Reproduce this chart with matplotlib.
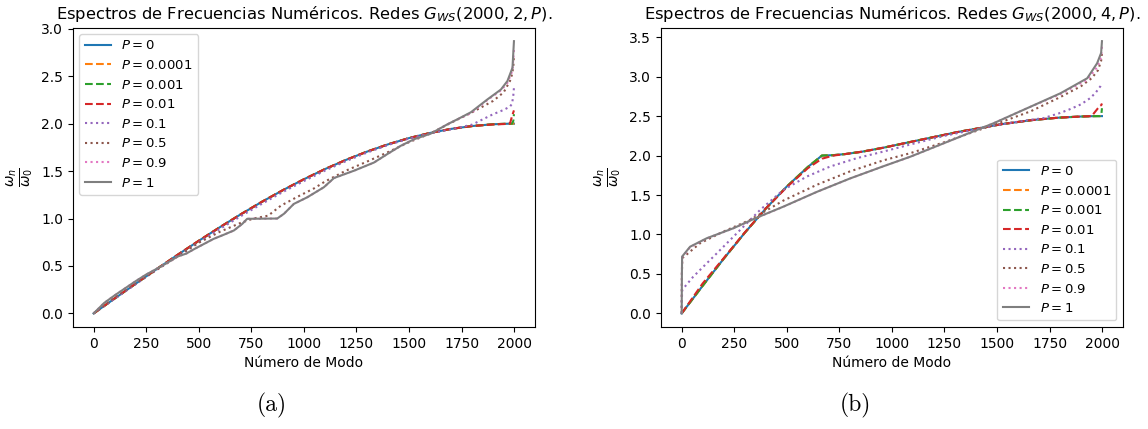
import numpy as np
import matplotlib
matplotlib.use('Agg')
from matplotlib import pyplot as plt

# ---- datos: red G_WS(2000, 2, P) ----
a_modes = [0, 100, 200, 300, 400, 500, 600, 700, 800, 900, 1000, 1100, 1200,
           1300, 1400, 1500, 1600, 1700, 1800, 1900, 1950, 1980, 1990, 1996, 1999]
a_p0 = [0, 0.157, 0.313, 0.467, 0.618, 0.765, 0.908, 1.045, 1.176, 1.299, 1.414,
        1.521, 1.618, 1.705, 1.782, 1.848, 1.902, 1.945, 1.975, 1.994, 1.998,
        2.0, 2.0, 2.0, 2.0]
a_p00001 = [0, 0.157, 0.313, 0.467, 0.618, 0.765, 0.908, 1.045, 1.176, 1.299, 1.414,
            1.521, 1.618, 1.705, 1.782, 1.848, 1.902, 1.945, 1.975, 1.994, 1.998,
            2.0, 2.0, 2.0, 2.01]
a_p0001 = [0, 0.157, 0.313, 0.467, 0.618, 0.765, 0.908, 1.045, 1.176, 1.299, 1.414,
           1.521, 1.618, 1.705, 1.782, 1.848, 1.902, 1.945, 1.975, 1.994, 1.998,
           2.0, 2.0, 2.03, 2.1]
a_p001 = [0, 0.158, 0.315, 0.468, 0.619, 0.766, 0.908, 1.045, 1.176, 1.299, 1.414,
          1.521, 1.618, 1.705, 1.782, 1.848, 1.902, 1.945, 1.975, 1.992, 1.996,
          2.0, 2.08, 2.12, 2.14]
a_p01 = [0, 0.155, 0.308, 0.46, 0.605, 0.75, 0.89, 1.025, 1.155, 1.28, 1.395,
         1.505, 1.605, 1.695, 1.775, 1.843, 1.898, 1.94, 1.99, 2.1, 2.145,
         2.18, 2.21, 2.3, 2.38]

a_modes_05 = [0, 100, 200, 300, 400, 500, 600, 700, 760, 830, 890, 970, 1050, 1100,
              1200, 1300, 1400, 1500, 1600, 1700, 1800, 1900, 1950, 1980, 1990, 1996, 1999]
a_p05 = [0, 0.17, 0.32, 0.46, 0.6, 0.745, 0.86, 0.955, 1.0, 1.03, 1.135, 1.23, 1.32,
         1.39, 1.505, 1.6, 1.7, 1.805, 1.895, 2.01, 2.12, 2.24, 2.33, 2.45, 2.52, 2.6, 2.72]

a_modes_1 = [0, 50, 100, 150, 200, 250, 300, 340, 400, 440, 480, 570, 620, 667, 707,
             730, 873, 905, 952, 1016, 1095, 1143, 1238, 1333, 1397, 1460, 1524, 1603,
             1683, 1730, 1794, 1873, 1937, 1968, 1992, 1999]
a_p09 = [0, 0.11, 0.19, 0.265, 0.34, 0.41, 0.47, 0.52, 0.6, 0.63, 0.68, 0.785, 0.83,
         0.874, 0.944, 0.997, 1.0, 1.05, 1.154, 1.224, 1.33, 1.427, 1.504, 1.59, 1.68,
         1.766, 1.836, 1.895, 1.994, 2.046, 2.11, 2.25, 2.35, 2.43, 2.56, 2.78]
a_p1 = [0, 0.11, 0.19, 0.265, 0.34, 0.41, 0.47, 0.52, 0.6, 0.63, 0.68, 0.785, 0.83,
        0.874, 0.944, 0.997, 1.0, 1.05, 1.154, 1.224, 1.33, 1.427, 1.504, 1.59, 1.68,
        1.766, 1.836, 1.895, 1.994, 2.046, 2.12, 2.256, 2.36, 2.45, 2.59, 2.87]

# ---- datos: red G_WS(2000, 4, P) ----
b_modes = [0, 100, 200, 300, 400, 500, 600, 667, 721, 781, 860, 960, 1137, 1316,
           1527, 1668, 1791, 1900, 1950, 1980, 1990, 1996, 1999]
b_p0 = [0, 0.35, 0.693, 1.021, 1.328, 1.608, 1.855, 2.0, 2.005, 2.02, 2.05, 2.1,
        2.2, 2.3, 2.4, 2.45, 2.48, 2.495, 2.499, 2.5, 2.5, 2.5, 2.5]
b_p00001 = [0, 0.35, 0.693, 1.021, 1.328, 1.608, 1.855, 2.0, 2.005, 2.02, 2.05, 2.1,
            2.2, 2.3, 2.4, 2.45, 2.48, 2.495, 2.499, 2.5, 2.5, 2.5, 2.51]
b_p0001 = [0, 0.35, 0.693, 1.021, 1.328, 1.608, 1.855, 2.0, 2.005, 2.02, 2.05, 2.1,
           2.2, 2.3, 2.4, 2.45, 2.48, 2.495, 2.499, 2.5, 2.5, 2.52, 2.6]
b_p001 = [0, 0.38, 0.7, 1.025, 1.33, 1.6, 1.84, 1.96, 2.0, 2.02, 2.05, 2.1,
          2.2, 2.3, 2.4, 2.45, 2.48, 2.495, 2.5, 2.6, 2.63, 2.64, 2.66]

b_modes_01 = [0, 1, 3, 55, 167, 278, 373, 484, 595, 706, 833, 960, 1087, 1250, 1484,
              1650, 1722, 1800, 1849, 1900, 1944, 1970, 1992, 1999]
b_p01 = [0, 0.2, 0.3, 0.465, 0.761, 1.057, 1.311, 1.565, 1.734, 1.861, 1.967, 2.051,
         2.14, 2.25, 2.38, 2.45, 2.475, 2.54, 2.59, 2.65, 2.73, 2.8, 2.88, 2.92]

b_modes_05 = [0, 1, 3, 87, 198, 325, 484, 643, 801, 960, 1087, 1250, 1484, 1659,
              1800, 1900, 1950, 1980, 1995, 1999]
b_p05 = [0, 0.5, 0.7, 0.888, 1.036, 1.184, 1.43, 1.63, 1.8, 1.94, 2.03, 2.17, 2.39,
         2.56, 2.74, 2.88, 2.98, 3.08, 3.2, 3.3]

b_modes_1 = [0, 1, 2, 40, 119, 246, 357, 484, 643, 801, 960, 1087, 1325, 1484, 1643,
             1802, 1929, 1976, 1995, 1999]
b_p09 = [0, 0.5, 0.71, 0.84, 0.95, 1.078, 1.212, 1.352, 1.54, 1.71, 1.865, 1.985,
         2.24, 2.41, 2.6, 2.78, 2.96, 3.12, 3.25, 3.38]
b_p1 = [0, 0.5, 0.72, 0.845, 0.952, 1.079, 1.213, 1.353, 1.54, 1.71, 1.865, 1.985,
        2.24, 2.41, 2.6, 2.79, 2.98, 3.17, 3.3, 3.45]

labels = ['0', '0.0001', '0.001', '0.01', '0.1', '0.5', '0.9', '1']
styles = ['-', '--', '--', '--', ':', ':', ':', '-']
colors = ['C0', 'C1', 'C2', 'C3', 'C4', 'C5', 'C6', 'C7']

series_a = [(a_modes, a_p0), (a_modes, a_p00001), (a_modes, a_p0001), (a_modes, a_p001),
            (a_modes, a_p01), (a_modes_05, a_p05), (a_modes_1, a_p09), (a_modes_1, a_p1)]
series_b = [(b_modes, b_p0), (b_modes, b_p00001), (b_modes, b_p0001), (b_modes, b_p001),
            (b_modes_01, b_p01), (b_modes_05, b_p05), (b_modes_1, b_p09), (b_modes_1, b_p1)]

fig = plt.figure(figsize=(11.48, 4.29), dpi=100)
ax1 = fig.add_axes([0.0633, 0.2378, 0.4027, 0.698])
ax2 = fig.add_axes([0.5755, 0.2378, 0.4027, 0.698])

for ax, series, k, loc in [(ax1, series_a, 2, 'upper left'), (ax2, series_b, 4, 'lower right')]:
    for (x, y), lab, ls, c in zip(series, labels, styles, colors):
        ax.plot(x, y, ls, color=c, label=r'$P = %s$' % lab)
    ax.set_title(r'Espectros de Frecuencias Numéricos. Redes $G_{WS}(2000, %d, P)$.' % k,
                 fontsize=11.8)
    ax.set_xlabel('Número de Modo', fontsize=10)
    ax.set_ylabel(r'$\frac{\omega_n}{\omega_0}$', fontsize=14)
    ax.set_xticks([0, 250, 500, 750, 1000, 1250, 1500, 1750, 2000])
    ax.tick_params(labelsize=10)
    ax.legend(loc=loc, fontsize=9.5)

ax1.set_yticks([0.0, 0.5, 1.0, 1.5, 2.0, 2.5, 3.0])
ax2.set_yticks([0.0, 0.5, 1.0, 1.5, 2.0, 2.5, 3.0, 3.5])

fig.text(0.237, 0.04, '(a)', family='cmr10', fontsize=17, ha='center')
fig.text(0.745, 0.04, '(b)', family='cmr10', fontsize=17, ha='center')

fig.savefig('out.png', dpi=100)
